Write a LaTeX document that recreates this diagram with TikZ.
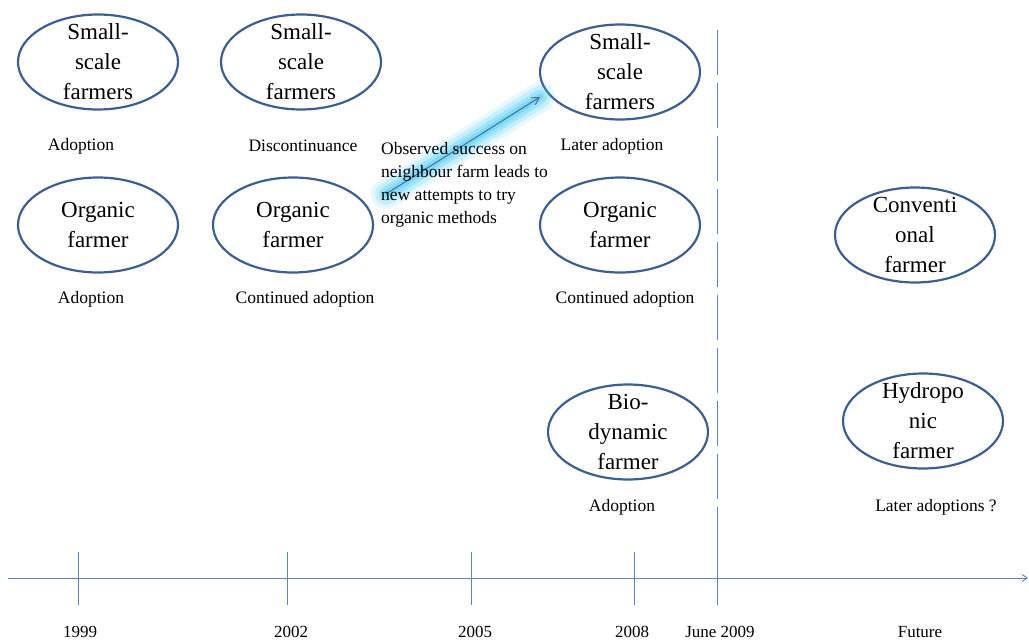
\documentclass[tikz,border=0pt]{standalone}
\usepackage{fontspec}
\setmainfont{Liberation Serif}
\usetikzlibrary{shapes.geometric,arrows.meta}
\definecolor{ellblue}{HTML}{3A5F94}
\definecolor{axisblue}{HTML}{5B84BE}
\definecolor{glowcyan}{HTML}{2EC4F0}
\definecolor{arrowblue}{HTML}{4A6A9A}
\begin{document}
\begin{tikzpicture}[x=1pt,y=-1pt,
  farm/.style={ellipse, draw=ellblue, line width=2.2pt, minimum width=160pt,
    minimum height=95pt, inner sep=0pt},
  ftext/.style={align=center, inner sep=0pt,
    font=\fontsize{23}{30}\selectfont},
  lab/.style={inner sep=0pt, font=\fontsize{17.5}{20}\selectfont},
  yearlab/.style={inner sep=0pt, font=\fontsize{17}{20}\selectfont},
  axisline/.style={draw=axisblue, line width=0.9pt},
  glow/.style={draw=glowcyan, line cap=round},
]
\useasboundingbox (0,0) rectangle (1029,642);

% farmer ellipses
\node[farm, label={[ftext]center:Small-\\scale\\farmers}] (s1) at (98,62) {};
\node[farm, label={[ftext]center:Small-\\scale\\farmers}] (s2) at (301,62) {};
\node[farm, label={[ftext]center:Small-\\scale\\farmers}] (s3) at (620,72) {};
\node[farm, label={[ftext]center:Organic\\farmer}] (o1) at (98,225) {};
\node[farm, label={[ftext]center:Organic\\farmer}] (o2) at (293,225) {};
\node[farm, label={[ftext]center:Organic\\farmer}] (o3) at (620,225) {};
\node[farm, label={[ftext]center:Conventi\\onal\\farmer}] (cv) at (915,235) {};
\node[farm, label={[ftext]center:Bio-\\dynamic\\farmer}] (bd) at (628,432) {};
\node[farm, label={[ftext]center:Hydropo\\nic\\farmer}] (hp) at (923,421) {};

% stage labels
\node[lab] (l1) at (81,146) {Adoption};
\node[lab] (l2) at (303,146) {Discontinuance};
\node[lab] (l3) at (612,146) {Later adoption};
\node[lab] (l4) at (91,299) {Adoption};
\node[lab] (l5) at (305,299) {Continued adoption};
\node[lab] (l6) at (625,299) {Continued adoption};
\node[lab] (l7) at (622,507) {Adoption};
\node[lab] (l8) at (936,507) {Later adoptions ?};

% glowing influence arrow
\coordinate (a0) at (386,194);
\coordinate (a1) at (540,97);
\foreach \w/\o in {30/0.12, 22/0.18, 14/0.25, 7/0.3}
  \draw[glow, line width=\w pt, opacity=\o] (a0) -- (a1);
\draw[arrowblue, line width=1pt, -{Straight Barb[length=7pt,width=8pt]}] (a0) -- (a1);

\node[inner sep=0pt, anchor=north west, align=left,
  font=\fontsize{17.5}{23}\selectfont] (note) at (381,142)
  {Observed success on\\neighbour farm leads to\\new attempts to try\\organic methods};

% present day divider
\coordinate (d0) at (717,30);
\coordinate (d1) at (717,578);
\draw[axisline, dash pattern=on 45pt off 8pt] (d0) -- (d1);

% time axis
\coordinate (t0) at (8,578);
\coordinate (t1) at (1028,578);
\draw[axisline, -{Straight Barb[length=5pt,width=7pt]}] (t0) -- (t1);
\foreach \x/\nm in {78/k1, 287/k2, 471/k3, 634/k4, 717/k5} {
  \coordinate (\nm a) at (\x,552);
  \coordinate (\nm b) at (\x,605);
  \draw[axisline] (\nm a) -- (\nm b);
}

% year labels
\node[yearlab] (y1) at (80,632) {1999};
\node[yearlab] (y2) at (291,632) {2002};
\node[yearlab] (y3) at (475,632) {2005};
\node[yearlab] (y4) at (632,632) {2008};
\node[yearlab] (y5) at (720,632) {June 2009};
\node[yearlab] (y6) at (920,632) {Future};
\end{tikzpicture}
\end{document}
